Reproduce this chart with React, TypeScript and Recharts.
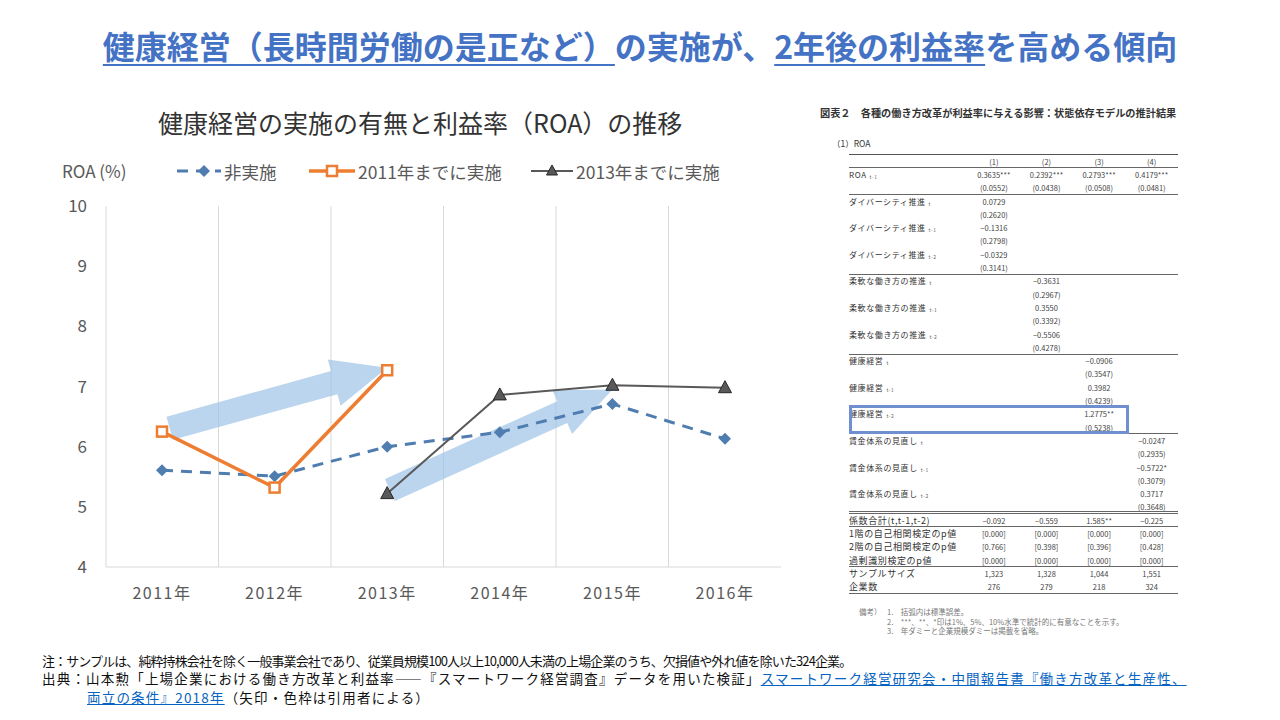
import React from 'react';
import { LineChart, Line, XAxis, YAxis, CartesianGrid, ReferenceLine } from 'recharts';

// chart values
const years = ['2011年', '2012年', '2013年', '2014年', '2015年', '2016年'];
const notImplemented = [5.61, 5.51, 6.0, 6.24, 6.71, 6.13];
const by2011 = [6.25, 5.32, 7.27, null, null, null];
const by2013 = [null, null, 5.22, 6.86, 7.02, 6.98];
const yTicks = [4, 5, 6, 7, 8, 9, 10];

// the two blue arrows (added by the quoting author), in data units
const arrowStart = [{ x: '2011年', y: 6.27 }, { x: '2013年', y: 5.26 }];
const arrowEnd = [{ x: '2013年', y: 7.31 }, { x: '2015年', y: 6.95 }];

const BLUE = '#4f7db0';
const ORANGE = '#ed7d31';
const GRAY = '#595959';
const FONT = '"Noto Sans CJK JP", "Noto Sans", sans-serif';

// regression table (right side)
const colHeads = ['(1)', '(2)', '(3)', '(4)'];
const roaCoef = ['0.3635***', '0.2392***', '0.2793***', '0.4179***'];
const roaSe = ['(0.0552)', '(0.0438)', '(0.0508)', '(0.0481)'];
const diversity = ['0.0729', '(0.2620)', '−0.1316', '(0.2798)', '−0.0329', '(0.3141)'];
const flexible = ['−0.3631', '(0.2967)', '0.3550', '(0.3392)', '−0.5506', '(0.4278)'];
const health = ['−0.0906', '(0.3547)', '0.3982', '(0.4239)', '1.2775**', '(0.5238)'];
const wage = ['−0.0247', '(0.2935)', '−0.5722*', '(0.3079)', '0.3717', '(0.3648)'];
const coefSum = ['−0.092', '−0.559', '1.585**', '−0.225'];
const ar1 = ['[0.000]', '[0.000]', '[0.000]', '[0.000]'];
const ar2 = ['[0.766]', '[0.398]', '[0.396]', '[0.428]'];
const overId = ['[0.000]', '[0.000]', '[0.000]', '[0.000]'];
const sampleSize = ['1,323', '1,328', '1,044', '1,551'];
const firms = ['276', '279', '218', '324'];
const lagSubs = ['t', 't-1', 't-2'];

type Row = { label: string; sub: string; cells: string[] };

const groupRows = (name: string, col: number, vals: string[]): Row[] => {
  const rows: Row[] = [];
  lagSubs.forEach((s, i) => {
    const c1 = ['', '', '', ''];
    c1[col] = vals[i * 2];
    const c2 = ['', '', '', ''];
    c2[col] = vals[i * 2 + 1];
    rows.push({ label: name, sub: s, cells: c1 });
    rows.push({ label: '', sub: '', cells: c2 });
  });
  return rows;
};

const tableBlocks: { rows: Row[]; big?: boolean; after: 'single' | 'double' }[] = [
  { rows: [{ label: '', sub: '', cells: colHeads }], after: 'single' },
  {
    rows: [
      { label: 'ROA', sub: 't-1', cells: roaCoef },
      { label: '', sub: '', cells: roaSe },
    ],
    after: 'single',
  },
  { rows: groupRows('ダイバーシティ推進', 0, diversity), after: 'single' },
  { rows: groupRows('柔軟な働き方の推進', 1, flexible), after: 'single' },
  { rows: groupRows('健康経営', 2, health), after: 'single' },
  { rows: groupRows('賃金体系の見直し', 3, wage), after: 'double' },
  { rows: [{ label: '係数合計(t,t-1,t-2)', sub: '', cells: coefSum }], big: true, after: 'single' },
  {
    rows: [
      { label: '1階の自己相関検定のp値', sub: '', cells: ar1 },
      { label: '2階の自己相関検定のp値', sub: '', cells: ar2 },
      { label: '過剰識別検定のp値', sub: '', cells: overId },
    ],
    big: true,
    after: 'single',
  },
  {
    rows: [
      { label: 'サンプルサイズ', sub: '', cells: sampleSize },
      { label: '企業数', sub: '', cells: firms },
    ],
    big: true,
    after: 'single',
  },
];

const ROW_H = 13.3;

const RegressionTable = () => {
  let rowIndex = 0;
  const out: React.ReactNode[] = [];
  tableBlocks.forEach((b, bi) => {
    b.rows.forEach((r, ri) => {
      const top = rowIndex * ROW_H;
      out.push(
        <div
          key={`r${bi}-${ri}`}
          style={{ position: 'absolute', left: 0, top, height: ROW_H, width: 329, display: 'flex', alignItems: 'center' }}
        >
          <div style={{ width: 119.5, fontSize: b.big ? 9 : 8, color: '#333', whiteSpace: 'nowrap', letterSpacing: b.big ? 0.6 : 0.6 }}>
            {r.label}
            {r.sub && <span style={{ fontSize: 5, marginLeft: 3, verticalAlign: -1, color: '#666' }}>{r.sub}</span>}
          </div>
          {r.cells.map((c, ci) => (
            <div key={ci} style={{ width: 53, textAlign: 'center', fontSize: 7.5, color: '#444', whiteSpace: 'nowrap' }}>
              {c}
            </div>
          ))}
        </div>
      );
      rowIndex += 1;
    });
    const y = rowIndex * ROW_H;
    out.push(<div key={`l${bi}`} style={{ position: 'absolute', left: 0, top: y - 0.5, width: 329, height: 1, background: '#666' }} />);
    if (b.after === 'double') {
      out.push(<div key={`ld${bi}`} style={{ position: 'absolute', left: 0, top: y - 3, width: 329, height: 1, background: '#666' }} />);
    }
  });
  // highlight box around 健康経営 t-2
  const hlRow = 19;
  return (
    <div style={{ position: 'absolute', left: 849, top: 154.5, width: 329, height: 33 * ROW_H, fontFamily: FONT }}>
      <div style={{ position: 'absolute', left: 0, top: -1, width: 329, height: 1.5, background: '#555' }} />
      {out}
      <div
        style={{
          position: 'absolute',
          left: 0,
          top: hlRow * ROW_H - 2,
          width: 280,
          height: 2 * ROW_H + 2,
          border: '3px solid #6f8fcf',
          boxSizing: 'border-box',
        }}
      />
    </div>
  );
};

const Diamond = (props: any) => {
  const { cx, cy, index } = props;
  if (cx == null || cy == null) return <g key={index} />;
  const r = 6;
  return <path key={index} d={`M${cx},${cy - r}L${cx + r},${cy}L${cx},${cy + r}L${cx - r},${cy}Z`} fill={BLUE} />;
};

const Square = (props: any) => {
  const { cx, cy, index } = props;
  if (cx == null || cy == null) return <g key={index} />;
  return <rect key={index} x={cx - 5} y={cy - 5} width={10} height={10} fill="#fff" stroke={ORANGE} strokeWidth={2.5} />;
};

const Triangle = (props: any) => {
  const { cx, cy, index } = props;
  if (cx == null || cy == null) return <g key={index} />;
  return (
    <path key={index} d={`M${cx},${cy - 7}L${cx + 6.5},${cy + 5}L${cx - 6.5},${cy + 5}Z`} fill={GRAY} stroke="#262626" strokeWidth={1} />
  );
};

const makeArrow = (startInset: number) => (props: any) => {
  const { x1, y1, x2, y2 } = props;
  const len = Math.hypot(x2 - x1, y2 - y1);
  const dx = (x2 - x1) / len;
  const dy = (y2 - y1) / len;
  const nx = -dy;
  const ny = dx;
  const sx = x1 + dx * startInset;
  const sy = y1 + dy * startInset;
  const headLen = 55;
  const bx = x2 - dx * headLen;
  const by = y2 - dy * headLen;
  const sw = 12;
  const hw = 24;
  const pts = [
    [sx + nx * sw, sy + ny * sw],
    [bx + nx * sw, by + ny * sw],
    [bx + nx * hw, by + ny * hw],
    [x2, y2],
    [bx - nx * hw, by - ny * hw],
    [bx - nx * sw, by - ny * sw],
    [sx - nx * sw, sy - ny * sw],
  ];
  return <polygon points={pts.map((p) => p.join(',')).join(' ')} fill="#9dc3e6" fillOpacity={0.7} />;
};

const arrowInsets = [8, 3];

const legendItems = [
  { name: '非実施', left: 177, kind: 'diamond' },
  { name: '2011年までに実施', left: 309, kind: 'square' },
  { name: '2013年までに実施', left: 531, kind: 'triangle' },
];

const LegendIcon = ({ kind }: { kind: string }) => {
  if (kind === 'diamond') {
    return (
      <svg width={44} height={14}>
        <line x1={0} y1={7} x2={44} y2={7} stroke={BLUE} strokeWidth={3} strokeDasharray="11 8" />
        <path d="M27,1L33,7L27,13L21,7Z" fill={BLUE} />
      </svg>
    );
  }
  if (kind === 'square') {
    return (
      <svg width={46} height={14}>
        <line x1={0} y1={7} x2={46} y2={7} stroke={ORANGE} strokeWidth={3.5} />
        <rect x={18} y={2} width={10} height={10} fill="#fff" stroke={ORANGE} strokeWidth={2.5} />
      </svg>
    );
  }
  return (
    <svg width={42} height={14}>
      <line x1={0} y1={7} x2={42} y2={7} stroke={GRAY} strokeWidth={2} />
      <path d="M21,1L26.5,11L15.5,11Z" fill={GRAY} stroke="#262626" strokeWidth={1} />
    </svg>
  );
};

const App = () => {
  const data = years.map((y, i) => ({
    year: y,
    notImplemented: notImplemented[i],
    by2011: by2011[i],
    by2013: by2013[i],
  }));

  return (
    <div style={{ position: 'relative', width: 1280, height: 720, margin: -8, background: '#fff', overflow: 'hidden', fontFamily: FONT }}>
      {/* slide title */}
      <div
        style={{
          position: 'absolute',
          top: 21,
          left: 0,
          width: 1280,
          textAlign: 'center',
          fontSize: 32,
          fontWeight: 700,
          color: '#4472c4',
          lineHeight: '48px',
          whiteSpace: 'nowrap',
        }}
      >
        <span style={{ textDecoration: 'underline', textUnderlineOffset: 5, textDecorationThickness: 2 }}>健康経営（長時間労働の是正など）</span>
        の実施が、
        <span style={{ textDecoration: 'underline', textUnderlineOffset: 5, textDecorationThickness: 2 }}>2年後の利益率</span>
        を高める傾向
      </div>

      {/* chart title */}
      <div style={{ position: 'absolute', left: 158, top: 106, fontSize: 25, lineHeight: '32px', color: '#333', whiteSpace: 'nowrap' }}>
        健康経営の実施の有無と利益率（ROA）の推移
      </div>

      {/* axis unit + legend */}
      <div style={{ position: 'absolute', left: 62, top: 160, height: 22, lineHeight: '22px', fontSize: 17, color: GRAY }}>ROA (%)</div>
      {legendItems.map((it) => (
        <div
          key={it.name}
          style={{ position: 'absolute', left: it.left, top: 160, height: 22, display: 'flex', alignItems: 'center', fontSize: 17.5, color: GRAY, whiteSpace: 'nowrap' }}
        >
          <LegendIcon kind={it.kind} />
          <span style={{ marginLeft: 3 }}>{it.name}</span>
        </div>
      ))}

      <div style={{ position: 'absolute', left: 40, top: 190 }}>
        <LineChart width={760} height={420} data={data} margin={{ top: 16, right: 19, left: 10, bottom: 3 }}>
          <CartesianGrid
            horizontal={false}
            stroke="#d9d9d9"
            verticalCoordinatesGenerator={({ offset }: any) => years.map((_, i) => offset.left + (i * offset.width) / years.length)}
          />
          <XAxis
            dataKey="year"
            padding={{ left: 56, right: 56 }}
            axisLine={{ stroke: '#d9d9d9' }}
            tickLine={false}
            tickMargin={15}
            height={40}
            tick={{ fill: GRAY, fontSize: 16, letterSpacing: 1.5, fontFamily: FONT }}
          />
          <YAxis
            domain={[4, 10]}
            ticks={yTicks}
            axisLine={false}
            tickLine={false}
            tickMargin={13}
            width={56}
            tick={{ fill: GRAY, fontSize: 17, fontFamily: FONT }}
          />
          {arrowStart.map((s, i) => (
            <ReferenceLine key={i} segment={[s, arrowEnd[i]]} shape={makeArrow(arrowInsets[i])} ifOverflow="visible" />
          ))}
          <Line
            dataKey="notImplemented"
            stroke={BLUE}
            strokeWidth={3}
            strokeDasharray="11 8"
            dot={Diamond}
            activeDot={false}
            isAnimationActive={false}
          />
          <Line dataKey="by2013" stroke={GRAY} strokeWidth={2} dot={Triangle} activeDot={false} isAnimationActive={false} />
          <Line dataKey="by2011" stroke={ORANGE} strokeWidth={3.5} dot={Square} activeDot={false} isAnimationActive={false} />
        </LineChart>
      </div>

      {/* right: estimation table */}
      <div style={{ position: 'absolute', left: 820, top: 105, fontSize: 10.2, fontWeight: 700, color: '#333', whiteSpace: 'nowrap', lineHeight: '16px' }}>
        図表２　各種の働き方改革が利益率に与える影響：状態依存モデルの推計結果
      </div>
      <div style={{ position: 'absolute', left: 832, top: 136, fontSize: 8.5, color: '#333', lineHeight: '14px' }}>（1）ROA</div>
      <RegressionTable />
      <div style={{ position: 'absolute', left: 859, top: 607, fontSize: 7.5, color: '#777', lineHeight: '9.5px', whiteSpace: 'nowrap' }}>
        <div style={{ display: 'flex' }}>
          <span style={{ width: 28 }}>備考）</span>
          <span>1.　括弧内は標準誤差。</span>
        </div>
        <div style={{ paddingLeft: 28 }}>2.　***、**、*印は1%、5%、10%水準で統計的に有意なことを示す。</div>
        <div style={{ paddingLeft: 28 }}>3.　年ダミーと企業規模ダミーは掲載を省略。</div>
      </div>

      {/* footnotes */}
      <div style={{ position: 'absolute', left: 42, top: 652, fontSize: 13, lineHeight: '18px', color: '#111', whiteSpace: 'nowrap', letterSpacing: -0.9 }}>
        注：サンプルは、純粋持株会社を除く一般事業会社であり、従業員規模100人以上10,000人未満の上場企業のうち、欠損値や外れ値を除いた324企業。
      </div>
      <div style={{ position: 'absolute', left: 42, top: 669, fontSize: 13.5, lineHeight: '18px', color: '#111', whiteSpace: 'nowrap', letterSpacing: 1.2 }}>
        出典：山本勲「上場企業における働き方改革と利益率――『スマートワーク経営調査』データを用いた検証」
        <span style={{ color: '#0563c1', textDecoration: 'underline' }}>スマートワーク経営研究会・中間報告書『働き方改革と生産性、</span>
      </div>
      <div style={{ position: 'absolute', left: 87, top: 688, fontSize: 13.5, lineHeight: '18px', color: '#111', whiteSpace: 'nowrap', letterSpacing: 1.2 }}>
        <span style={{ color: '#0563c1', textDecoration: 'underline' }}>両立の条件』2018年</span>（矢印・色枠は引用者による）
      </div>
    </div>
  );
};

export default App;
